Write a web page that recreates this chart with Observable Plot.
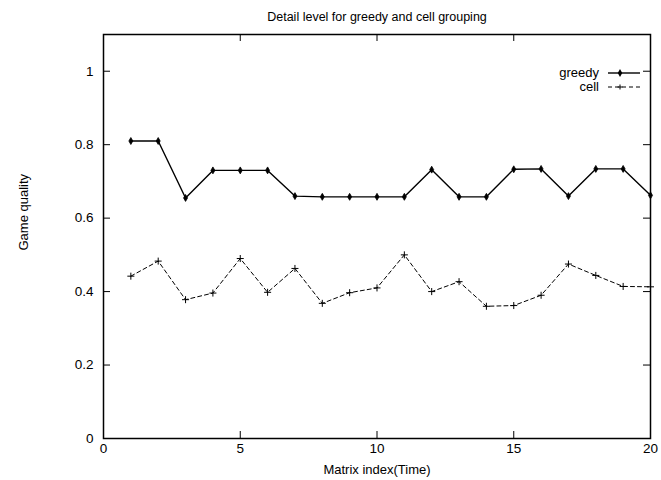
<!DOCTYPE html>
<html><head><meta charset="utf-8">
<script src="https://cdn.jsdelivr.net/npm/d3@7"></script>
<script src="https://cdn.jsdelivr.net/npm/@observablehq/plot@0.6"></script>
<style>body{margin:0;background:#fff;font-family:"Liberation Sans",Arial,sans-serif}</style>
</head><body><div id="chart"></div>
<script>
const matrixIndex = [1,2,3,4,5,6,7,8,9,10,11,12,13,14,15,16,17,18,19,20];
const greedy = [0.81,0.81,0.655,0.73,0.73,0.73,0.66,0.658,0.658,0.658,0.658,0.732,0.658,0.658,0.733,0.734,0.66,0.734,0.734,0.662];
const cell = [0.442,0.483,0.378,0.396,0.49,0.398,0.463,0.368,0.397,0.41,0.50,0.40,0.427,0.36,0.362,0.39,0.475,0.444,0.414,0.413];
const xTicks = [0,5,10,15,20];
const yTicks = [0,0.2,0.4,0.6,0.8,1];
const seriesNames = ["greedy","cell"];
const titleText = "Detail level for greedy and cell grouping";
const xLabel = "Matrix index(Time)";
const yLabel = "Game quality";

const rows = [];
matrixIndex.forEach((x,i)=>{
  rows.push({x, y: greedy[i], s: "greedy"});
  rows.push({x, y: cell[i], s: "cell"});
});
const g = rows.filter(d=>d.s==="greedy");
const c = rows.filter(d=>d.s==="cell");

const W = 661, H = 480, mL = 103, mR = 11, mT = 34, mB = 42;
const tickLenX = 7 * 20 / (W - mL - mR);
const tickLenY = 7 * 1.1 / (H - mT - mB);

const chart = Plot.plot({
  width: W, height: H,
  marginLeft: mL, marginRight: mR, marginTop: mT, marginBottom: mB,
  style: {fontFamily: '"Liberation Sans", Arial, sans-serif', fontSize: "13px", color: "#000", background: "#fff"},
  x: {domain: [0,20]},
  y: {domain: [0,1.1]},
  marks: [
    Plot.frame({stroke: "#000", strokeWidth: 1.5}),
    Plot.axisX(xTicks, {tickSize: 0, tickPadding: 5, fontSize: 13.5, label: null}),
    Plot.axisY(yTicks, {tickSize: 0, tickPadding: 10, fontSize: 13.5, label: null, tickFormat: d=>String(d)}),
    Plot.ruleX(xTicks.slice(1,-1), {x: d=>d, y1: 0, y2: tickLenY, stroke: "#000"}),
    Plot.ruleX(xTicks.slice(1,-1), {x: d=>d, y1: 1.1, y2: 1.1 - tickLenY, stroke: "#000"}),
    Plot.ruleY(yTicks.slice(1), {y: d=>d, x1: 0, x2: tickLenX, stroke: "#000"}),
    Plot.ruleY(yTicks.slice(1), {y: d=>d, x1: 20, x2: 20 - tickLenX, stroke: "#000"}),
    Plot.line(g, {x: "x", y: "y", stroke: "#000", strokeWidth: 1.4}),
    Plot.dot(g, {x: "x", y: "y", symbol: "diamond", r: 2.1, fill: "#000", stroke: "#000", strokeWidth: 0.8}),
    Plot.line(c, {x: "x", y: "y", stroke: "#000", strokeWidth: 1, strokeDasharray: "4,3"}),
    Plot.dot(c, {x: "x", y: "y", symbol: "plus", r: 2.4, stroke: "#000", strokeWidth: 1}),
    Plot.text([titleText], {frameAnchor: "top", dy: -22, fontSize: 12.5, fill: "#000"}),
    Plot.text([xLabel], {frameAnchor: "bottom", dy: 35, fontSize: 13, fill: "#000"}),
    Plot.text([yLabel], {frameAnchor: "left", dx: -80, dy: 14, rotate: -90, fontSize: 13, fill: "#000"})
  ]
});
document.getElementById("chart").appendChild(chart);

// legend (decorative, top-right inside the frame)
const svg = d3.select(chart);
const lg = svg.append("g").attr("font-family", '"Liberation Sans", Arial, sans-serif').attr("font-size", 13);
const lx1 = W - mR - 42, lx2 = W - mR - 10;
seriesNames.forEach((name, i) => {
  const y = mT + 39 + i * 14;
  lg.append("text").attr("x", lx1 - 9).attr("y", y).attr("dy", "0.32em").attr("text-anchor", "end").text(name);
  lg.append("line").attr("x1", lx1).attr("x2", lx2).attr("y1", y).attr("y2", y)
    .attr("stroke", "#000").attr("stroke-width", i === 0 ? 1.4 : 1)
    .attr("stroke-dasharray", i === 0 ? null : "4,3");
  const mx = (lx1 + lx2) / 2 - 4;
  if (i === 0) {
    lg.append("path").attr("d", d3.symbol(d3.symbolDiamond, 18)()).attr("transform", `translate(${mx},${y})`).attr("fill", "#000");
  } else {
    lg.append("path").attr("d", `M${mx-2.5},${y}h5M${mx},${y-2.5}v5`).attr("stroke", "#000");
  }
});
</script></body></html>
